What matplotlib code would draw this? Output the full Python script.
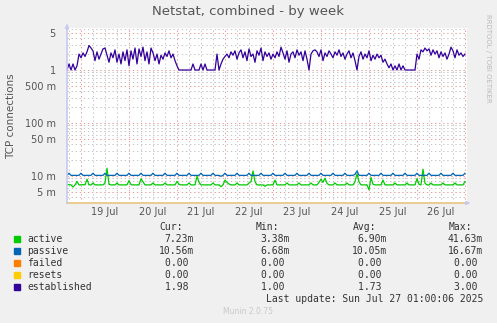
import numpy as np
import pandas as pd
import matplotlib
matplotlib.use("Agg")
import matplotlib.pyplot as plt
import matplotlib.dates as mdates

# hourly samples, Jul 18 17:00 .. Jul 27 00:00
start = pd.Timestamp("2025-07-18 17:00")
end = pd.Timestamp("2025-07-27 01:00")

established = [
    1.0, 1.3, 1.0, 1.3, 1.0, 1.2, 2.0, 1.7, 2.1, 1.8, 2.2, 2.9, 2.6, 2.3, 1.5, 2.2, 1.6, 2.0, 2.5, 2.6,
    1.9, 1.4, 2.1, 1.7, 2.4, 1.4, 2.0, 1.3, 2.2, 1.5, 2.4, 1.2, 2.3, 1.6, 2.6, 1.3, 2.5, 1.8, 2.7, 1.5,
    2.2, 1.3, 2.6, 2.1, 1.5, 2.0, 1.3, 1.9, 1.6, 2.1, 1.8, 2.3, 1.7, 2.0, 1.5, 1.2, 1.0, 1.0, 1.0, 1.0,
    1.0, 1.0, 1.0, 1.3, 1.0, 1.0, 1.0, 1.3, 1.0, 1.3, 1.0, 1.0, 1.0, 1.0, 1.0, 2.0, 1.0, 1.3, 1.6, 1.8,
    2.0, 1.7, 2.2, 1.9, 2.3, 1.6, 2.1, 2.4, 1.7, 2.2, 1.5, 2.5, 1.8, 2.0, 1.4, 2.3, 1.9, 2.6, 1.5, 2.2,
    1.8, 2.1, 1.6, 2.0, 1.7, 2.2, 1.8, 2.7, 2.1, 1.6, 2.3, 1.4, 2.0, 2.2, 1.7, 2.4, 1.9, 2.2, 1.5, 2.3,
    1.6, 1.0, 2.0, 2.3, 2.4, 2.2, 1.8, 2.4, 1.5, 2.1, 1.8, 2.3, 2.0, 1.7, 2.2, 1.9, 2.4, 1.8, 2.1, 1.6,
    2.0, 2.3, 1.7, 2.1, 1.5, 1.0, 1.8, 2.2, 1.6, 2.0, 1.7, 2.3, 1.5, 1.9, 1.6, 2.0, 1.7, 1.9, 1.4, 1.6,
    1.3, 1.1, 1.3, 1.0, 1.2, 1.0, 1.3, 1.0, 1.2, 1.0, 1.0, 1.0, 1.0, 1.0, 1.0, 2.0, 1.6, 2.4, 2.2, 2.6,
    2.3, 2.5, 1.9, 2.4, 2.0, 2.3, 1.7, 2.2, 1.8, 2.1, 1.6, 2.0, 2.7, 2.3, 1.7, 2.4, 1.9, 2.1, 1.8, 2.0,
]

# values in milli
passive = [
    10.3, 11.3, 10.3, 10.3, 10.3, 10.3, 10.3, 11.3, 10.3, 10.3, 10.3, 10.3, 10.3, 11.3, 10.3, 10.3, 10.3, 10.3, 10.3, 11.3,
    10.3, 10.3, 10.3, 10.3, 10.3, 11.3, 10.3, 10.3, 10.3, 10.3, 10.3, 11.3, 10.3, 10.3, 10.3, 10.3, 10.3, 11.3, 10.3, 10.3,
    10.3, 10.3, 10.3, 11.3, 10.3, 10.3, 10.3, 10.3, 10.3, 11.3, 10.3, 10.3, 10.3, 10.3, 10.3, 11.3, 10.3, 10.3, 10.3, 10.3,
    10.3, 11.3, 10.3, 10.3, 10.3, 10.3, 10.3, 11.3, 10.3, 10.3, 10.3, 10.3, 10.3, 11.3, 10.3, 10.3, 10.3, 9.9, 10.3, 11.3,
    10.3, 10.3, 10.3, 10.3, 10.3, 11.3, 10.3, 10.3, 10.3, 10.3, 10.3, 11.3, 10.3, 10.3, 10.3, 10.3, 10.3, 11.3, 10.3, 10.3,
    10.3, 10.3, 10.3, 11.3, 10.3, 10.3, 10.3, 10.3, 10.3, 11.3, 10.3, 10.3, 10.3, 10.3, 10.3, 11.3, 10.3, 10.3, 10.3, 10.3,
    10.3, 11.3, 10.3, 10.3, 10.3, 10.3, 10.3, 11.3, 10.3, 10.3, 10.3, 10.3, 10.3, 11.3, 10.3, 10.3, 10.3, 10.3, 10.3, 11.3,
    10.3, 10.3, 10.3, 10.3, 10.8, 12.5, 10.3, 10.3, 10.3, 10.3, 10.3, 11.3, 10.3, 10.3, 10.3, 10.3, 10.3, 11.3, 10.3, 10.3,
    10.3, 10.3, 10.3, 11.3, 10.3, 10.3, 10.3, 10.3, 10.3, 11.3, 10.3, 10.3, 10.3, 10.3, 10.3, 11.3, 10.3, 10.3, 10.3, 10.3,
    10.3, 11.3, 10.3, 10.3, 10.3, 10.3, 10.3, 11.3, 10.3, 10.3, 10.3, 10.3, 10.3, 11.3, 10.3, 10.3, 10.3, 10.3, 10.3, 11.3,
]

active = [
    6.8, 6.9, 6.8, 6.2, 6.8, 7.9, 6.8, 6.8, 6.9, 6.8, 8.7, 6.8, 6.8, 7.4, 6.8, 6.8, 6.8, 6.8, 6.8, 7.4,
    14.0, 7.0, 6.8, 6.8, 6.8, 7.4, 6.8, 6.8, 6.8, 6.8, 6.8, 8.2, 6.9, 6.8, 6.8, 6.8, 6.8, 8.9, 7.8, 6.8,
    6.8, 6.8, 6.8, 7.4, 6.8, 6.8, 6.8, 6.8, 6.8, 7.4, 6.8, 6.8, 6.8, 6.8, 6.8, 7.9, 7.0, 6.8, 6.8, 6.8,
    6.8, 7.4, 6.8, 6.8, 6.8, 9.9, 7.6, 6.8, 6.8, 6.8, 6.8, 6.8, 6.8, 7.4, 6.8, 6.8, 6.8, 6.3, 6.8, 8.4,
    7.6, 7.1, 6.8, 6.8, 6.8, 7.4, 6.8, 6.8, 6.8, 6.8, 6.8, 7.4, 7.8, 12.5, 7.8, 6.8, 6.8, 6.8, 6.8, 6.4,
    6.8, 6.8, 6.8, 6.8, 8.4, 6.8, 6.8, 6.8, 6.8, 6.8, 7.4, 6.8, 6.8, 6.8, 6.8, 6.8, 7.4, 6.8, 6.8, 6.8,
    6.8, 6.8, 7.4, 6.8, 6.8, 6.8, 7.6, 8.7, 7.6, 9.1, 7.3, 6.8, 6.8, 6.8, 7.4, 6.8, 6.8, 6.8, 6.8, 6.8,
    7.4, 6.8, 6.8, 6.8, 7.8, 11.0, 7.8, 6.8, 6.8, 6.8, 6.8, 5.5, 9.4, 7.0, 6.8, 6.8, 6.8, 6.8, 8.4, 6.8,
    6.8, 6.8, 6.8, 6.8, 7.4, 6.8, 6.8, 6.8, 6.8, 6.8, 7.4, 6.8, 6.8, 6.8, 6.8, 8.9, 7.0, 6.8, 13.5, 7.3,
    6.8, 6.8, 7.4, 6.8, 6.8, 6.8, 6.8, 6.8, 7.4, 6.8, 6.8, 6.8, 6.8, 6.8, 7.4, 6.8, 6.8, 6.8, 6.8, 7.9,
]

failed = [0.0] * 200
resets = [0.0] * 200

names = ["active", "passive", "failed", "resets", "established"]
colors = ["#00CC00", "#0066B3", "#FF8000", "#FFCC00", "#330099"]
cur = ["7.23m", "10.56m", "0.00 ", "0.00 ", "1.98 "]
mins = ["3.38m", "6.68m", "0.00 ", "0.00 ", "1.00 "]
avgs = ["6.90m", "10.05m", "0.00 ", "0.00 ", "1.73 "]
maxs = ["41.63m", "16.67m", "0.00 ", "0.00 ", "3.00 "]

ytick_vals = [5e-3, 1e-2, 5e-2, 1e-1, 5e-1, 1, 5]
ytick_labels = ["5 m", "10 m", "50 m", "100 m", "500 m", "1", "5"]

times = pd.date_range(start, periods=len(established), freq="h")
ymin, ymax = 3.1e-3, 6.2

W, H = 497, 323
fig = plt.figure(figsize=(W / 100, H / 100), dpi=100, facecolor="#F0F0F0")
ax = fig.add_axes([67 / W, 1 - 203 / H, 400 / W, 175 / H], facecolor="white")
ax.set_yscale("log")
ax.set_ylim(ymin, ymax)
ax.set_xlim(start, end)

red = "#EE9A9A"
grey = "#C4C4C4"
dots = (0, (1.4, 2.8))
# vertical grid
for t in pd.date_range(start.ceil("6h"), end, freq="6h"):
    c = red if t.hour == 0 else grey
    ax.axvline(t, color=c, lw=0.7, ls=dots, zorder=1)
# horizontal grid
for e in range(-3, 1):
    for m in range(1, 10):
        v = m * 10.0 ** e
        if v < ymin or v > ymax:
            continue
        c = red if m in (1, 5) else grey
        ax.axhline(v, color=c, lw=0.7, ls=dots, zorder=1)

noons = pd.date_range("2025-07-19 12:00", "2025-07-26 12:00", freq="D")
ax.set_xticks(noons)
ax.set_xticklabels([t.strftime("%d %b").lstrip("0") for t in noons])
ax.set_yticks(ytick_vals)
ax.set_yticklabels(ytick_labels)
ax.minorticks_off()
ax.tick_params(axis="both", length=0, labelsize=7, colors="#555555", pad=3)
ax.tick_params(axis="y", pad=8)

floor = lambda s: np.maximum(np.array(s, dtype=float), ymin)
ax.plot(times, floor(failed), color=colors[2], lw=1.2, zorder=3, clip_on=False)
ax.plot(times, floor(resets), color="#E8D8A8", lw=1.2, zorder=3, clip_on=False)
ax.plot(times, np.array(active) / 1000, color=colors[0], lw=0.9, zorder=4)
ax.plot(times, np.array(passive) / 1000, color=colors[1], lw=0.9, zorder=4)
ax.plot(times, established, color=colors[4], lw=0.9, zorder=5)

for s in ax.spines.values():
    s.set_visible(False)
ax.axvline(start, color="#C8C8F0", lw=1.2, zorder=6, clip_on=False)
ax.annotate("", xy=(67 / W, 1 - 21 / H), xytext=(67 / W, 1 - 29 / H), xycoords="figure fraction",
            arrowprops=dict(arrowstyle="-|>", color="#C8C8F0", lw=0.8, mutation_scale=6))
ax.annotate("", xy=(473 / W, 1 - 203 / H), xytext=(465 / W, 1 - 203 / H), xycoords="figure fraction",
            arrowprops=dict(arrowstyle="-|>", color="#C8C8F0", lw=0.8, mutation_scale=6))

fig.text(248 / W, 1 - 11 / H, "Netstat, combined - by week", ha="center", va="center",
         fontsize=9.5, color="#555555")
fig.text(11 / W, 1 - 116 / H, "TCP connections", ha="center", va="center", rotation=90,
         fontsize=7.5, color="#555555")
fig.text(488 / W, 1 - 58 / H, "RRDTOOL / TOBI OETIKER", ha="center", va="center", rotation=270,
         fontsize=5, color="#BBBBBB")

mono = dict(family="DejaVu Sans Mono", fontsize=7, color="#333333", va="center")
col_right = [194, 290, 387, 483]
headers = ["Cur:", "Min:", "Avg:", "Max:"]
for xr, hd in zip(col_right, headers):
    fig.text((xr - 11) / W, 1 - 227 / H, hd, ha="right", **mono)
for i, name in enumerate(names):
    y = 1 - (239 + i * 12) / H
    fig.patches.append(plt.Rectangle((14 / W, y - 3 / H), 6 / W, 6 / H, color=colors[i],
                                     transform=fig.transFigure, figure=fig))
    fig.text(27 / W, y, name, ha="left", **mono)
    for xr, col in zip(col_right, [cur, mins, avgs, maxs]):
        fig.text(xr / W, y, col[i], ha="right", **mono)
fig.text(483 / W, 1 - 299 / H, "Last update: Sun Jul 27 01:00:06 2025", ha="right", **mono)
fig.text(248 / W, 1 - 312 / H, "Munin 2.0.75", ha="center", va="center", fontsize=5.5, color="#C8C8C8")

fig.savefig("out.png", dpi=100, facecolor=fig.get_facecolor())
